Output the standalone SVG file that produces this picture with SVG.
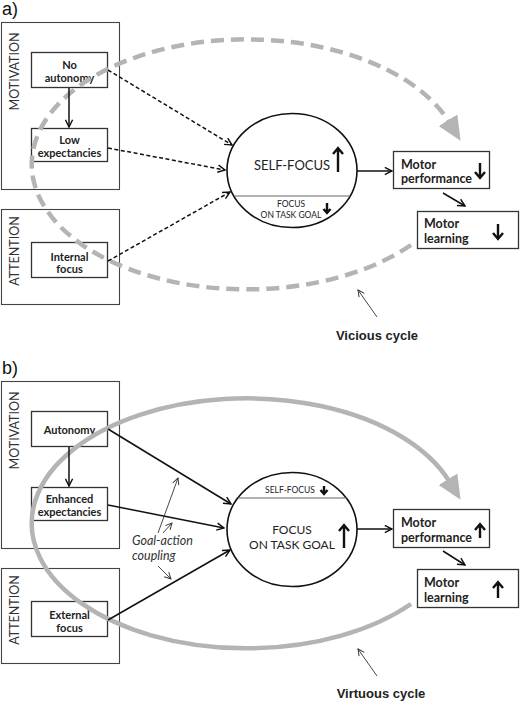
<svg xmlns="http://www.w3.org/2000/svg" width="520" height="703" viewBox="0 0 520 703">
<defs>
<style>
.bg{fill:#fff}
.panel{fill:none;stroke:#444;stroke-width:1.1}
.box{fill:none;stroke:#333;stroke-width:1.3}
.ell{fill:#fff;stroke:#111;stroke-width:1.6}
.div{stroke:#666;stroke-width:1.1}
.side{font-family:Lato,"Liberation Sans",sans-serif;font-size:12.5px;fill:#333}
.lbl{font-family:Lato,"Liberation Sans",sans-serif;font-size:11px;font-weight:bold;fill:#222;text-anchor:middle}
.mlbl{font-family:Lato,"Liberation Sans",sans-serif;font-size:12.5px;font-weight:bold;fill:#222}
.ftxt{font-family:Lato,"Liberation Sans",sans-serif;fill:#222;text-anchor:middle}
.cap{font-family:"Liberation Sans",Arial,sans-serif;font-size:13px;font-weight:bold;fill:#222;text-anchor:middle}
.tag{font-family:"Liberation Sans",Arial,sans-serif;font-size:18px;fill:#111}
.ital{font-family:Lato,"Liberation Sans",sans-serif;font-size:12.5px;font-style:italic;fill:#333}
.con{fill:none;stroke:#111;stroke-width:1.5;marker-end:url(#ah)}
.dash{stroke-dasharray:4 2.5}
.thin{fill:none;stroke:#333;stroke-width:0.9;marker-end:url(#ahs)}
.thick{fill:none;stroke:#111;stroke-width:2.4;stroke-linecap:butt}
.cyc{fill:none;stroke:#b4b4b4;stroke-width:4.5;marker-end:url(#big)}
.cycd{stroke-dasharray:13 7}
</style>
<marker id="ah" viewBox="0 0 10 10" refX="9" refY="5" markerWidth="9" markerHeight="9" markerUnits="userSpaceOnUse" orient="auto">
<path d="M1,1 L9,5 L1,9" fill="none" stroke="#111" stroke-width="1.6"/>
</marker>
<marker id="ahs" viewBox="0 0 10 10" refX="9" refY="5" markerWidth="8" markerHeight="8" markerUnits="userSpaceOnUse" orient="auto">
<path d="M1,1 L9,5 L1,9" fill="none" stroke="#333" stroke-width="1.2"/>
</marker>
<marker id="big" viewBox="0 0 24 22" refX="2" refY="11" markerWidth="24" markerHeight="22" markerUnits="userSpaceOnUse" orient="auto">
<path d="M0,0 L24,11 L0,22 z" fill="#b4b4b4"/>
</marker>
</defs>
<rect class="bg" x="0" y="0" width="520" height="703"/>

<text class="tag" x="2" y="15">a)</text>
<text class="tag" x="2" y="374">b)</text>

<!-- Panel a -->
<g id="a-motivation">
<rect class="panel" x="1.5" y="22.5" width="118" height="167"/>
<text class="side" transform="translate(19,71.5) rotate(-90)" text-anchor="middle">MOTIVATION</text>
</g>
<g id="a-attention">
<rect class="panel" x="1.5" y="209.5" width="118" height="95"/>
<text class="side" transform="translate(19,251) rotate(-90)" text-anchor="middle">ATTENTION</text>
</g>
<g id="a-no-autonomy">
<rect class="box" x="31.5" y="52.5" width="76" height="35"/>
<text class="lbl" x="69.5" y="69">No</text>
<text class="lbl" x="69.5" y="82">autonomy</text>
</g>
<g id="a-low-expectancies">
<rect class="box" x="31.5" y="128.5" width="76" height="33"/>
<text class="lbl" x="69.5" y="144">Low</text>
<text class="lbl" x="69.5" y="157">expectancies</text>
</g>
<g id="a-internal-focus">
<rect class="box" x="31.5" y="242.5" width="76" height="35"/>
<text class="lbl" x="69.5" y="261">Internal</text>
<text class="lbl" x="69.5" y="273">focus</text>
</g>
<g id="a-focus-ellipse">
<ellipse class="ell" cx="292" cy="170.5" rx="65" ry="57"/>
<line class="div" x1="235" y1="196" x2="350" y2="196"/>
<text class="ftxt" x="292" y="170" font-size="13">SELF-FOCUS</text>
<path class="thick" d="M338,172 V148 M333,154 L338,148 L343,154"/>
<text class="ftxt" x="291" y="207" font-size="8.5">FOCUS</text>
<text class="ftxt" x="291" y="218" font-size="8.5">ON TASK GOAL</text>
<path class="thick" stroke-width="1.8" d="M327,203 V213 M323.5,209 L327,213 L330.5,209"/>
</g>
<g id="a-motor-performance">
<rect class="box" x="393.5" y="151.5" width="96" height="37"/>
<text class="mlbl" x="401" y="169">Motor</text>
<text class="mlbl" x="401" y="183">performance</text>
<path class="thick" d="M480,163 V178 M475,172 L480,178 L485,172"/>
</g>
<g id="a-motor-learning">
<rect class="box" x="417.5" y="211.5" width="101" height="37"/>
<text class="mlbl" x="424" y="228">Motor</text>
<text class="mlbl" x="424" y="243">learning</text>
<path class="thick" d="M498,224 V239 M493,233 L498,239 L503,233"/>
</g>
<g id="a-vicious-label">
<text class="cap" x="377" y="340">Vicious cycle</text>
</g>

<!-- Panel b -->
<g id="b-motivation">
<rect class="panel" x="1.5" y="381.5" width="118" height="167"/>
<text class="side" transform="translate(19,430.5) rotate(-90)" text-anchor="middle">MOTIVATION</text>
</g>
<g id="b-attention">
<rect class="panel" x="1.5" y="568.5" width="118" height="95"/>
<text class="side" transform="translate(19,610) rotate(-90)" text-anchor="middle">ATTENTION</text>
</g>
<g id="b-autonomy">
<rect class="box" x="31.5" y="411.5" width="76" height="35"/>
<text class="lbl" x="69.5" y="434">Autonomy</text>
</g>
<g id="b-enhanced-expectancies">
<rect class="box" x="31.5" y="487.5" width="76" height="33"/>
<text class="lbl" x="69.5" y="503">Enhanced</text>
<text class="lbl" x="69.5" y="516">expectancies</text>
</g>
<g id="b-external-focus">
<rect class="box" x="31.5" y="601.5" width="76" height="35"/>
<text class="lbl" x="69.5" y="619">External</text>
<text class="lbl" x="69.5" y="632">focus</text>
</g>
<g id="b-focus-ellipse">
<ellipse class="ell" cx="292" cy="529.5" rx="65" ry="57"/>
<line class="div" x1="238" y1="498" x2="347" y2="498"/>
<text class="ftxt" x="290" y="493" font-size="8.5">SELF-FOCUS</text>
<path class="thick" stroke-width="1.8" d="M324,486 V494 M320.5,490 L324,494 L327.5,490"/>
<text class="ftxt" x="292" y="534" font-size="12">FOCUS</text>
<text class="ftxt" x="292" y="549" font-size="12">ON TASK GOAL</text>
<path class="thick" d="M344,548 V525 M339,531 L344,525 L349,531"/>
</g>
<g id="b-motor-performance">
<rect class="box" x="393.5" y="509.5" width="96" height="38"/>
<text class="mlbl" x="401" y="527">Motor</text>
<text class="mlbl" x="401" y="542">performance</text>
<path class="thick" d="M480,538 V524 M475,530 L480,524 L485,530"/>
</g>
<g id="b-motor-learning">
<rect class="box" x="417.5" y="569.5" width="101" height="38"/>
<text class="mlbl" x="424" y="587">Motor</text>
<text class="mlbl" x="424" y="602">learning</text>
<path class="thick" d="M498,598 V582 M493,588 L498,582 L503,588"/>
</g>
<g id="b-goal-action-label">
<text class="ital" x="132" y="545">Goal-action</text>
<text class="ital" x="132" y="560">coupling</text>
</g>
<g id="b-virtuous-label">
<text class="cap" x="381" y="698">Virtuous cycle</text>
</g>

<g id="connectors">
<!-- cycles -->
<path class="cyc cycd" d="M411,245 A215,125 0 1 1 449,122"/>
<path class="cyc" d="M411,604 A215,125 0 1 1 449,481"/>
<!-- panel a -->
<path class="con" d="M69,88 V127"/>
<path class="con dash" d="M108,70 L232,145"/>
<path class="con dash" d="M108,148 L225,170"/>
<path class="con dash" d="M108,261 L230,192"/>
<path class="con" d="M357,171 H392"/>
<path class="con" d="M443,193 L465,206"/>
<path class="thin" d="M377,317 L358,290"/>
<!-- panel b -->
<path class="con" d="M69,447 V486"/>
<path class="con" d="M108,429 L231,504"/>
<path class="con" d="M108,505 L224,528"/>
<path class="con" d="M108,620 L230,550"/>
<path class="con" d="M357,529 H392"/>
<path class="con" d="M443,551 L465,565"/>
<path class="thin" d="M377,676 L358,649"/>
<path class="thin" d="M158,533 L178,478"/>
<path class="thin" d="M163,533 L172,523"/>
<path class="thin" d="M158,566 L171,579"/>
</g>
</svg>
